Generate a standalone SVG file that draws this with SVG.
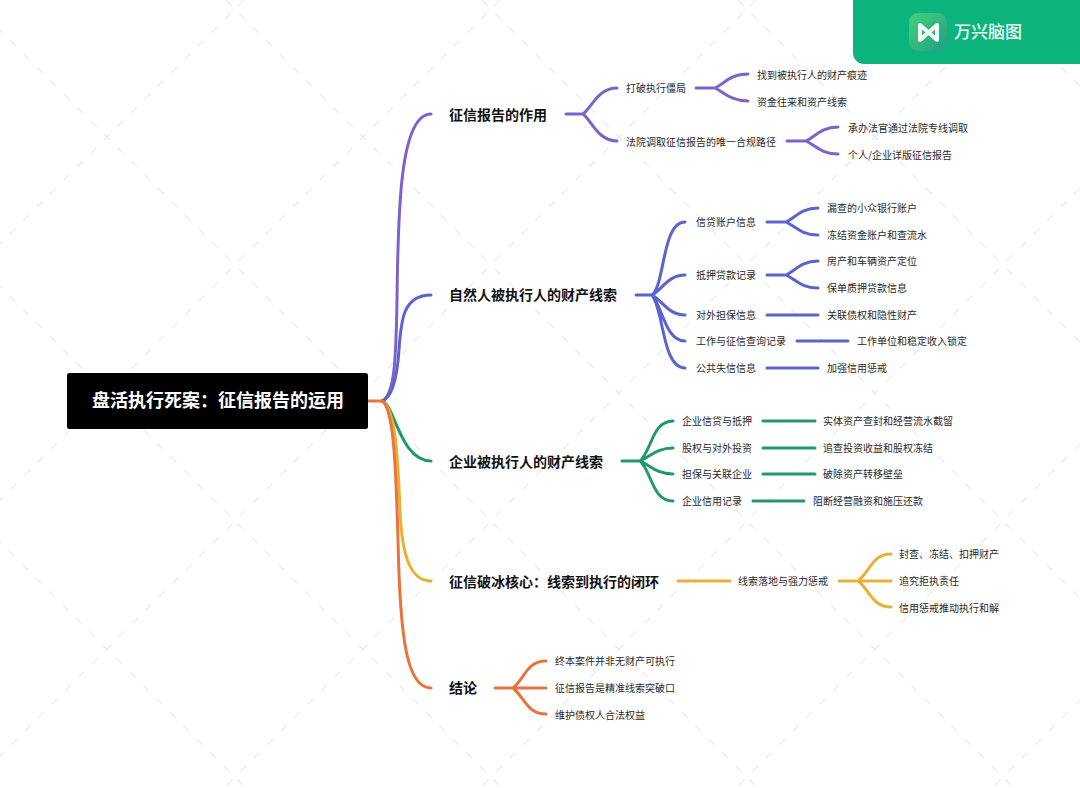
<svg xmlns="http://www.w3.org/2000/svg" width="1080" height="788" viewBox="0 0 1080 788">
<defs>
<linearGradient id="logoGrad" x1="0" y1="0" x2="1" y2="1"><stop offset="0" stop-color="#45d07c"/><stop offset="1" stop-color="#1f9f86"/></linearGradient>
</defs>
<style>
text{font-family:"Noto Sans CJK SC","Liberation Sans",sans-serif}
.leaf{font-size:10px;fill:#2a2a2a}
.main{font-size:14px;font-weight:700;fill:#111}
.root{font-size:18px;font-weight:700;fill:#fff}
.brand{font-size:17px;font-weight:500;fill:#eafff5}
#connectors path{fill:none;stroke-linecap:round;stroke-width:3}
.p{stroke:#7a63cb}.b{stroke:#5b63cf}.g{stroke:#1f9a68}.y{stroke:#e9b034}.o{stroke:#e8733c}
#watermark{fill:none;stroke:#e9e9e9;stroke-width:1.200;stroke-dasharray:8 11}
</style>
<rect width="1080" height="788" fill="#fff"/>
<path id="watermark" d="M-12 0L-800 788M244 0L-544 788M500 0L-288 788M756 0L-32 788M1012 0L224 788M1268 0L480 788M1524 0L736 788M1780 0L992 788M-798 0L-10 788M-542 0L246 788M-286 0L502 788M-30 0L758 788M226 0L1014 788M482 0L1270 788M738 0L1526 788M994 0L1782 788"/>
<g id="connectors">
<path class="p" d="M382 401C394 395 396 365 397 300C398 210 400 114 431 114"/>
<path class="b" d="M382 401C392 398 397 380 399 350C401 320 403 295 431 295"/>
<path class="g" d="M382 401C395 405 400 461 431 461"/>
<path class="y" d="M382 401C396 408 398 460 400 510C402 560 412 581 431 581"/>
<path class="o" d="M382 401C394 408 396 470 398 540C400 640 407 688 431 688"/>
<path class="o" d="M368 401H382"/>
<path class="p" d="M566 114H583C592 107 598 88 617 88M583 114C592 121 598 141 617 141"/>
<path class="p" d="M696 88H715C724 84 730 74 748 74M715 88C724 92 730 101 748 101"/>
<path class="p" d="M787 141H806C815 137 821 127 838 127M806 141C815 145 821 154 838 154"/>
<path class="b" d="M636 295H652C665 285 662 222 685 222M652 295C662 290 668 275 685 275M652 295C662 300 668 315 685 315M652 295C662 305 665 341 685 341M652 295C664 310 662 368 685 368"/>
<path class="b" d="M767 222H786C795 218 801 208 818 208M786 222C795 226 801 235 818 235"/>
<path class="b" d="M767 275H786C795 271 801 261 818 261M786 275C795 279 801 288 818 288"/>
<path class="b" d="M767 315H818M797 341H848M767 368H818"/>
<path class="g" d="M622 461H640C652 450 652 421 673 421M640 461C650 457 656 448 673 448M640 461C650 465 656 474 673 474M640 461C652 472 652 501 673 501"/>
<path class="g" d="M763 421H815M763 448H815M763 474H815M753 501H804"/>
<path class="y" d="M678 581H730M839 581H858C870 572 872 554 891 554M858 581H891M858 581C870 590 872 607 891 607"/>
<path class="o" d="M495 688H513C525 678 527 661 546 661M513 688H546M513 688C525 698 527 714 546 714"/>
</g>
<g id="root"><rect x="67" y="373" width="301" height="56" rx="2.500" fill="#000"/><text class="root" x="92" y="407">盘活执行死案&#xFF1A;征信报告的运用</text></g>
<g id="n1"><text class="main" x="449" y="120">征信报告的作用</text></g>
<g id="n2"><text class="main" x="449" y="300">自然人被执行人的财产线索</text></g>
<g id="n3"><text class="main" x="449" y="467">企业被执行人的财产线索</text></g>
<g id="n4"><text class="main" x="449" y="587">征信破冰核心&#xFF1A;线索到执行的闭环</text></g>
<g id="n5"><text class="main" x="449" y="693">结论</text></g>
<g id="n1a"><text class="leaf" x="626" y="92">打破执行僵局</text></g>
<g id="n1a1"><text class="leaf" x="757" y="79">找到被执行人的财产痕迹</text></g>
<g id="n1a2"><text class="leaf" x="757" y="106">资金往来和资产线索</text></g>
<g id="n1b"><text class="leaf" x="626" y="146">法院调取征信报告的唯一合规路径</text></g>
<g id="n1b1"><text class="leaf" x="848" y="132">承办法官通过法院专线调取</text></g>
<g id="n1b2"><text class="leaf" x="848" y="159">个人/企业详版征信报告</text></g>
<g id="n2a"><text class="leaf" x="696" y="226">信贷账户信息</text></g>
<g id="n2a1"><text class="leaf" x="827" y="212">漏查的小众银行账户</text></g>
<g id="n2a2"><text class="leaf" x="827" y="239">冻结资金账户和查流水</text></g>
<g id="n2b"><text class="leaf" x="696" y="279">抵押贷款记录</text></g>
<g id="n2b1"><text class="leaf" x="827" y="265">房产和车辆资产定位</text></g>
<g id="n2b2"><text class="leaf" x="827" y="292">保单质押贷款信息</text></g>
<g id="n2c"><text class="leaf" x="696" y="319">对外担保信息</text></g>
<g id="n2c1"><text class="leaf" x="827" y="319">关联债权和隐性财产</text></g>
<g id="n2d"><text class="leaf" x="696" y="345">工作与征信查询记录</text></g>
<g id="n2d1"><text class="leaf" x="857" y="345">工作单位和稳定收入锁定</text></g>
<g id="n2e"><text class="leaf" x="696" y="372">公共失信信息</text></g>
<g id="n2e1"><text class="leaf" x="827" y="372">加强信用惩戒</text></g>
<g id="n3a"><text class="leaf" x="682" y="425">企业信贷与抵押</text></g>
<g id="n3a1"><text class="leaf" x="823" y="425">实体资产查封和经营流水截留</text></g>
<g id="n3b"><text class="leaf" x="682" y="452">股权与对外投资</text></g>
<g id="n3b1"><text class="leaf" x="823" y="452">追查投资收益和股权冻结</text></g>
<g id="n3c"><text class="leaf" x="682" y="478">担保与关联企业</text></g>
<g id="n3c1"><text class="leaf" x="823" y="478">破除资产转移壁垒</text></g>
<g id="n3d"><text class="leaf" x="682" y="505">企业信用记录</text></g>
<g id="n3d1"><text class="leaf" x="813" y="505">阻断经营融资和施压还款</text></g>
<g id="n4a"><text class="leaf" x="738" y="585">线索落地与强力惩戒</text></g>
<g id="n4a1"><text class="leaf" x="899" y="558">封查&#x3001;冻结&#x3001;扣押财产</text></g>
<g id="n4a2"><text class="leaf" x="899" y="585">追究拒执责任</text></g>
<g id="n4a3"><text class="leaf" x="899" y="612">信用惩戒推动执行和解</text></g>
<g id="n5a"><text class="leaf" x="555" y="665">终本案件并非无财产可执行</text></g>
<g id="n5b"><text class="leaf" x="555" y="692">征信报告是精准线索突破口</text></g>
<g id="n5c"><text class="leaf" x="555" y="719">维护债权人合法权益</text></g>
<g id="logo">
<rect x="853" y="-12" width="240" height="76" rx="11" fill="#0db37c"/>
<rect x="909" y="13" width="38" height="38" rx="9" fill="url(#logoGrad)"/>
<path d="M920 25L937 40V25L920 40Z" fill="none" stroke="#f2fff9" stroke-width="4" stroke-linejoin="round"/>
<text class="brand" x="954" y="38">万兴脑图</text>
</g>
</svg>
